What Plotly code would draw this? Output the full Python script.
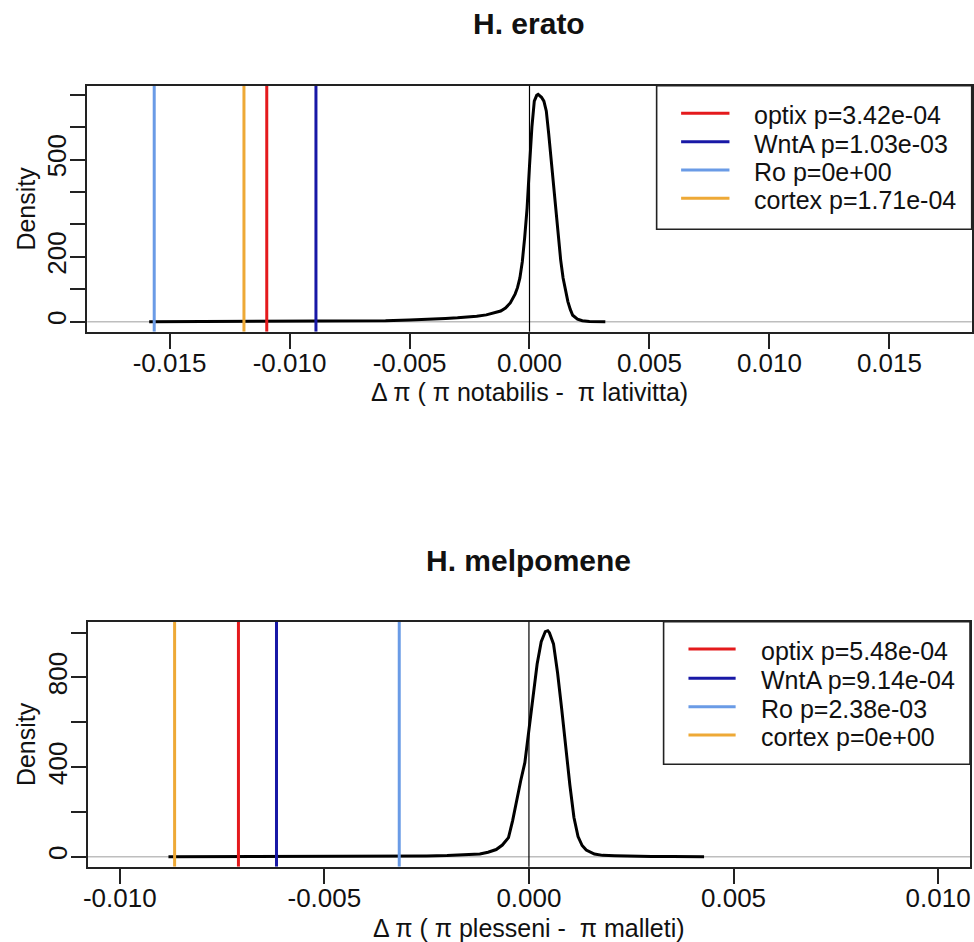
import plotly.graph_objects as go

W, H = 974, 942

# ---------------- data ----------------
genes = ["optix", "WntA", "Ro", "cortex"]
gene_colors = ["#E41A1C", "#1818A6", "#6A9BE6", "#EEA936"]

erato_x = [-0.01585, -0.012, -0.009, -0.007, -0.006, -0.005, -0.0045, -0.004, -0.0035,
           -0.003, -0.0026, -0.0022, -0.0018, -0.0015, -0.0012, -0.001, -0.0008, -0.0006,
           -0.0005, -0.0004, -0.0003, -0.0002, -0.0001, 0.0, 0.0001, 0.0002, 0.0003,
           0.00036, 0.0004, 0.0005, 0.0006, 0.0007, 0.0008, 0.0009, 0.001, 0.0011, 0.0012,
           0.0013, 0.0014, 0.0015, 0.0016, 0.0017, 0.0018, 0.002, 0.0022, 0.0025, 0.0028,
           0.00316]
erato_density = [0, 0.5, 1, 2, 3, 5, 6, 8, 10,
                 12, 14, 17, 21, 26, 33, 42, 58, 85,
                 105, 135, 185, 260, 350, 480, 600, 680, 698,
                 701, 699, 692, 680, 650, 580, 500, 420, 340, 250,
                 190, 135, 95, 62, 38, 20, 8, 3, 1, 0.5,
                 0]
erato_obs = [-0.01095, -0.0089, -0.01564, -0.0119]
erato_p = ["3.42e-04", "1.03e-03", "0e+00", "1.71e-04"]

melp_x = [-0.00881, -0.006, -0.004, -0.003, -0.0025, -0.002, -0.0017, -0.0014, -0.0012,
          -0.001, -0.0008, -0.00065, -0.0005, -0.0004, -0.0003, -0.0002, -0.0001, 0.0,
          0.0001, 0.0002, 0.0003, 0.0004, 0.00046, 0.0005, 0.0006, 0.0007, 0.0008, 0.0009,
          0.001, 0.0011, 0.0012, 0.0013, 0.0014, 0.0016, 0.0018, 0.0021, 0.0025, 0.003,
          0.0035, 0.00428]
melp_density = [0, 0.3, 0.8, 1.5, 3, 5, 8, 10, 12,
                20, 32, 52, 85, 160, 253, 340, 420, 570,
                700, 860, 960, 1005, 1009, 1000, 950, 820, 660, 480,
                320, 175, 90, 50, 30, 12, 6, 4, 2, 1,
                0.5, 0]
melp_obs = [-0.0071, -0.00617, -0.00317, -0.00866]
melp_p = ["5.48e-04", "9.14e-04", "2.38e-03", "0e+00"]

erato_xticks = [-0.015, -0.010, -0.005, 0.0, 0.005, 0.010, 0.015]
erato_xticktext = ["-0.015", "-0.010", "-0.005", "0.000", "0.005", "0.010", "0.015"]
erato_yticks = [0, 100, 200, 300, 400, 500, 600, 700]
erato_yticktext = ["0", "", "200", "", "", "500", "", ""]

melp_xticks = [-0.010, -0.005, 0.0, 0.005, 0.010]
melp_xticktext = ["-0.010", "-0.005", "0.000", "0.005", "0.010"]
melp_yticks = [0, 200, 400, 600, 800, 1000]
melp_yticktext = ["0", "", "400", "", "800", ""]

# ---------------- layout helpers ----------------
FONT = "Liberation Sans, Arial, sans-serif"
TXT = "#111111"
TICK_SIZE = 26


def px(x):
    return x / W


def py(y):
    return 1 - y / H


fig = go.Figure()

panels = [
    dict(xa="x", ya="y", xaxis="xaxis", yaxis="yaxis",
         x=erato_x, d=erato_density, obs=erato_obs, p=erato_p,
         box=(82.7, 85.7, 971.7, 331.7), xr=[-0.01843, 0.01843], yr=[-30.8, 727.7],
         xt=erato_xticks, xtt=erato_xticktext, yt=erato_yticks, ytt=erato_yticktext,
         title="H. erato", title_y=24,
         xlab="\u0394 \u03c0 ( \u03c0 notabilis -\u00a0 \u03c0 lativitta)", xlab_y=392,
         leg=(655, 229.3, 679.6, 728.2, 750.9, [113.3, 141.7, 170.0, 198.3])),
    dict(xa="x2", ya="y2", xaxis="xaxis2", yaxis="yaxis2",
         x=melp_x, d=melp_density, obs=melp_obs, p=melp_p,
         box=(83.3, 621.7, 970.0, 866.7), xr=[-0.01078, 0.01078], yr=[-44.6, 1049],
         xt=melp_xticks, xtt=melp_xticktext, yt=melp_yticks, ytt=melp_yticktext,
         title="H. melpomene", title_y=560,
         xlab="\u0394 \u03c0 ( \u03c0 plesseni -\u00a0 \u03c0 malleti)", xlab_y=928,
         leg=(662, 764.3, 687.0, 734.4, 757.5, [649.0, 678.3, 706.7, 735.0])),
]

shapes = []
annotations = []

for pn in panels:
    xa, ya = pn["xa"], pn["ya"]
    yref_dom = ya + " domain"
    xref_dom = xa + " domain"

    # density curve
    fig.add_trace(go.Scatter(x=pn["x"], y=pn["d"], xaxis=xa, yaxis=ya, mode="lines",
                             line=dict(color="black", width=3), showlegend=False,
                             hoverinfo="skip"))
    # gray zero line (beneath the curve)
    shapes.append(dict(type="line", xref=xref_dom, x0=0, x1=1, yref=ya, y0=0, y1=0,
                       line=dict(color="#BEBEBE", width=1.5), layer="below"))
    # vertical reference at 0
    shapes.append(dict(type="line", xref=xa, x0=0, x1=0, yref=yref_dom, y0=0, y1=1,
                       line=dict(color="black", width=1.2), layer="above"))
    # gene lines
    for g, c, v, p in zip(genes, gene_colors, pn["obs"], pn["p"]):
        fig.add_trace(go.Scatter(x=[v, v], y=pn["yr"], xaxis=xa, yaxis=ya, mode="lines",
                                 line=dict(color=c, width=3), showlegend=False,
                                 name=f"{g} p={p}", hoverinfo="skip"))

    bl, bt, br, bb = pn["box"]
    dom_x = [px(bl), px(br)]
    dom_y = [py(bb), py(bt)]
    common = dict(showgrid=False, zeroline=False, showline=True, mirror=True,
                  linecolor="#222222", linewidth=1.6, ticks="outside", ticklen=15,
                  tickwidth=1.5, tickcolor="#222222",
                  tickfont=dict(family=FONT, size=TICK_SIZE, color=TXT))
    fig.layout[pn["xaxis"]] = dict(domain=dom_x, range=pn["xr"], anchor=ya,
                                   tickmode="array", tickvals=pn["xt"], ticktext=pn["xtt"],
                                   ticklabelstandoff=-8, **common)
    fig.layout[pn["yaxis"]] = dict(domain=dom_y, range=pn["yr"], anchor=xa,
                                   tickmode="array", tickvals=pn["yt"], ticktext=pn["ytt"],
                                   tickangle=-90, ticklabelstandoff=-6, **common)

    # title
    annotations.append(dict(text=f"<b>{pn['title']}</b>", x=px((bl + br) / 2), y=py(pn["title_y"]),
                            xref="paper", yref="paper", showarrow=False,
                            xanchor="center", yanchor="middle",
                            font=dict(family=FONT, size=30, color=TXT)))
    # y label
    annotations.append(dict(text="Density", x=px(21), y=py((bt + bb) / 2),
                            xref="paper", yref="paper", showarrow=False, textangle=-90,
                            xanchor="center", yanchor="middle",
                            font=dict(family=FONT, size=25, color=TXT)))
    # x label
    annotations.append(dict(text=pn["xlab"], x=px((bl + br) / 2), y=py(pn["xlab_y"]),
                            xref="paper", yref="paper", showarrow=False,
                            xanchor="center", yanchor="middle",
                            font=dict(family=FONT, size=25, color=TXT)))

    # legend (box, line keys, labels)
    lx0, lby, kx0, kx1, tx, rows = pn["leg"]
    shapes.append(dict(type="rect", xref="paper", yref="paper",
                       x0=px(lx0), x1=px(br), y0=py(lby), y1=py(bt),
                       line=dict(color="#222222", width=1.6), fillcolor="white", layer="above"))
    for g, c, p, ry in zip(genes, gene_colors, pn["p"], rows):
        shapes.append(dict(type="line", xref="paper", yref="paper",
                           x0=px(kx0), x1=px(kx1), y0=py(ry), y1=py(ry),
                           line=dict(color=c, width=3), layer="above"))
        annotations.append(dict(text=f"{g} p={p}", x=px(tx), y=py(ry + 2),
                                xref="paper", yref="paper", showarrow=False,
                                xanchor="left", yanchor="middle",
                                font=dict(family=FONT, size=25, color=TXT)))

fig.update_layout(width=W, height=H, margin=dict(l=0, r=0, t=0, b=0),
                  paper_bgcolor="white", plot_bgcolor="white",
                  shapes=shapes, annotations=annotations, showlegend=False)

fig.write_html("out.html", config={"displayModeBar": False},
               post_script="document.body.style.margin='0';document.body.style.overflow='hidden';")
